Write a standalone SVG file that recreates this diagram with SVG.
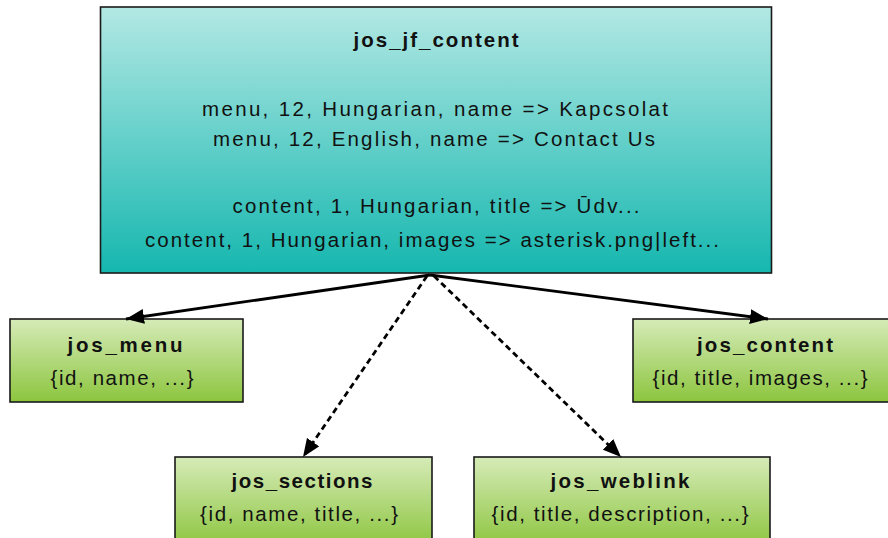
<svg xmlns="http://www.w3.org/2000/svg" width="888" height="538" viewBox="0 0 888 538">
  <defs>
    <linearGradient id="tealFill" x1="0" y1="0" x2="0" y2="1">
      <stop offset="0" stop-color="#b3e8e4"/>
      <stop offset="1" stop-color="#15b7af"/>
    </linearGradient>
    <linearGradient id="greenFill" x1="0" y1="0" x2="0" y2="1">
      <stop offset="0" stop-color="#d6ebb8"/>
      <stop offset="1" stop-color="#8cc53e"/>
    </linearGradient>
    <marker id="arrow" markerUnits="userSpaceOnUse" markerWidth="20" markerHeight="16" refX="18" refY="7.5" orient="auto">
      <path d="M0,0 L18,7.5 L0,15 Z" fill="#000"/>
    </marker>
  </defs>
  <style>
    .box { stroke: #1a1a1a; stroke-width: 1.6; }
    .title { font-family: "Liberation Sans", Arial, sans-serif; font-weight: bold; font-size: 20.5px; fill: #111; text-anchor: middle; }
    .body { font-family: "Liberation Sans", Arial, sans-serif; font-size: 20.5px; fill: #111; text-anchor: middle; }
    .solid { fill: none; stroke: #000; stroke-width: 2.8; }
    .dashed { fill: none; stroke: #000; stroke-width: 2.8; stroke-dasharray: 6 4; }
  </style>

  <rect width="888" height="538" fill="#fff"/>

  <g id="jos_jf_content">
    <rect class="box" x="100.5" y="7" width="671" height="266" fill="url(#tealFill)"/>
    <text class="title" x="436" y="47" textLength="165" lengthAdjust="spacing">jos_jf_content</text>
    <text class="body" x="435" y="116" textLength="466" lengthAdjust="spacing">menu, 12, Hungarian, name =&gt; Kapcsolat</text>
    <text class="body" x="434" y="146" textLength="442" lengthAdjust="spacing">menu, 12, English, name =&gt; Contact Us</text>
    <text class="body" x="436" y="213" textLength="407" lengthAdjust="spacing">content, 1, Hungarian, title =&gt; Ūdv...</text>
    <text class="body" x="432" y="247" textLength="574" lengthAdjust="spacing">content, 1, Hungarian, images =&gt; asterisk.png|left...</text>
  </g>

  <g id="jos_menu">
    <rect class="box" x="10" y="319" width="233" height="83" fill="url(#greenFill)"/>
    <text class="title" x="125" y="352" textLength="115" lengthAdjust="spacing">jos_menu</text>
    <text class="body" x="122" y="385" textLength="143" lengthAdjust="spacing">{id, name, ...}</text>
  </g>

  <g id="jos_content">
    <rect class="box" x="633" y="319" width="262" height="83" fill="url(#greenFill)"/>
    <text class="title" x="765" y="352" textLength="136" lengthAdjust="spacing">jos_content</text>
    <text class="body" x="760" y="385" textLength="215" lengthAdjust="spacing">{id, title, images, ...}</text>
  </g>

  <g id="jos_sections">
    <rect class="box" x="175" y="457" width="257" height="90" fill="url(#greenFill)"/>
    <text class="title" x="302" y="488" textLength="141" lengthAdjust="spacing">jos_sections</text>
    <text class="body" x="299" y="521" textLength="198" lengthAdjust="spacing">{id, name, title, ...}</text>
  </g>

  <g id="jos_weblink">
    <rect class="box" x="474" y="457" width="296" height="90" fill="url(#greenFill)"/>
    <text class="title" x="620" y="488" textLength="139" lengthAdjust="spacing">jos_weblink</text>
    <text class="body" x="620" y="521" textLength="257" lengthAdjust="spacing">{id, title, description, ...}</text>
  </g>

  <g id="connectors">
    <path class="solid" d="M430,275 L126,319" marker-end="url(#arrow)"/>
    <path class="solid" d="M430,275 L768,319" marker-end="url(#arrow)"/>
    <path class="dashed" d="M427,276 L303,457" marker-end="url(#arrow)"/>
    <path class="dashed" d="M434,276 L621,457" marker-end="url(#arrow)"/>
  </g>
</svg>
